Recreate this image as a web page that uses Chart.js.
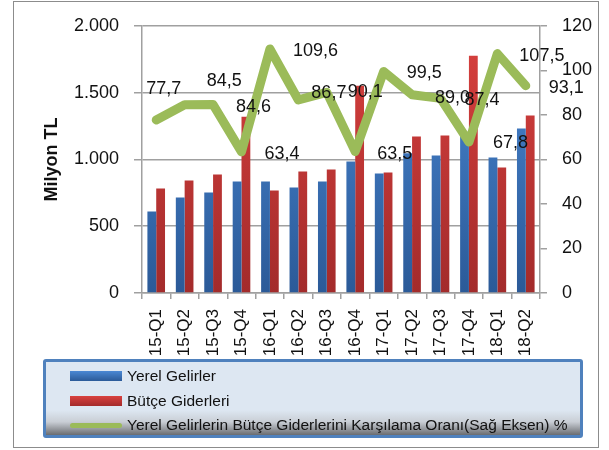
<!DOCTYPE html>
<html>
<head>
<meta charset="utf-8">
<script src="https://cdn.jsdelivr.net/npm/chart.js@4.4.1/dist/chart.umd.min.js"></script>
<style>
    body { margin: 0; background: #fff; font-family: "Liberation Sans", Arial, sans-serif; }
    #wrap { position: relative; width: 609px; height: 450px; }
    #frame { position: absolute; left: 13px; top: 1px; width: 584px; height: 445px; border: 1.5px solid #8c8c8c; pointer-events: none; }
    #legend {
        position: absolute; left: 43px; top: 359px; width: 534px; height: 73px;
        border: 3px solid #4f81bd; border-radius: 3px;
        background: linear-gradient(to bottom, #dde7f2 0%, #dde7f2 66%, #c9ced5 82%, #6a6c70 100%);
    }
    .item { position: absolute; left: 24px; height: 20px; display: flex; align-items: center; font-size: 15.5px; color: #111; white-space: nowrap; }
    .swatch { width: 52px; margin-right: 5px; }
</style>
</head>
<body>
<div id="wrap">
    <canvas id="chart" width="609" height="450"></canvas>
    <div id="frame"></div>
    <div id="legend"></div>
</div>
<script>
// Données
const categories = ['15-Q1', '15-Q2', '15-Q3', '15-Q4', '16-Q1', '16-Q2', '16-Q3', '16-Q4',
                    '17-Q1', '17-Q2', '17-Q3', '17-Q4', '18-Q1', '18-Q2'];
const yerelGelirler = [610, 715, 752, 834, 834, 790, 834, 984, 894, 1046, 1029, 1204, 1014, 1231];
const butceGiderleri = [782, 842, 887, 1320, 767, 909, 924, 1552, 902, 1171, 1178, 1776, 939, 1328];
const karsilamaOrani = [77.7, 84.5, 84.6, 63.4, 109.6, 86.7, 90.1, 63.5, 99.5, 89.0, 87.4, 67.8, 107.5, 93.1];
const leftTicks = [0, 500, 1000, 1500, 2000];
const rightTicks = [0, 20, 40, 60, 80, 100, 120];

// décalages des étiquettes (px), comme dans l'original Excel
const labelDx = [-10, 22, 23, 23, 23, 13, 21, 22, 23, 23, 24, 24, 22, 23];
const labelDy = [-31, -24, 2, 2, 2, -7, 0, 2, 2, 3, 2, 1, 2, 2];

const FONT = '"Liberation Sans", Arial, sans-serif';
const GRID = '#a0a0a0';

function fmtThousands(v) {
    return v.toString().replace(/\B(?=(\d{3})+(?!\d))/g, '.');
}

function barGradient(top, bottom) {
    return function(ctx) {
        const area = ctx.chart.chartArea;
        if (!area) return bottom;
        const g = ctx.chart.ctx.createLinearGradient(0, area.top, 0, area.bottom);
        g.addColorStop(0, top);
        g.addColorStop(1, bottom);
        return g;
    };
}

const lineLabels = {
    id: 'lineLabels',
    afterDatasetsDraw(chart) {
        const meta = chart.getDatasetMeta(0);
        const c = chart.ctx;
        c.save();
        c.font = '18px ' + FONT;
        c.fillStyle = '#111';
        c.textAlign = 'left';
        c.textBaseline = 'middle';
        meta.data.forEach((pt, i) => {
            const txt = karsilamaOrani[i].toFixed(1).replace('.', ',');
            c.fillText(txt, pt.x + labelDx[i], pt.y + labelDy[i]);
        });
        c.restore();
    }
};

const ctx = document.getElementById('chart').getContext('2d');
const chart = new Chart(ctx, {
    data: {
        labels: categories,
        datasets: [{
            type: 'line',
            label: 'Yerel Gelirlerin Bütçe Giderlerini Karşılama Oranı(Sağ Eksen) %',
            data: karsilamaOrani,
            yAxisID: 'yR',
            borderColor: '#9bbb59',
            backgroundColor: '#9bbb59',
            borderWidth: 9,
            borderJoinStyle: 'round',
            borderCapStyle: 'round',
            pointRadius: 0,
            tension: 0,
            order: 0
        }, {
            type: 'bar',
            label: 'Yerel Gelirler',
            data: yerelGelirler,
            yAxisID: 'y',
            backgroundColor: barGradient('#4a88d4', '#2b5a98'),
            categoryPercentage: 0.62,
            barPercentage: 1,
            order: 1
        }, {
            type: 'bar',
            label: 'Bütçe Giderleri',
            data: butceGiderleri,
            yAxisID: 'y',
            backgroundColor: barGradient('#d9413f', '#a32b2b'),
            categoryPercentage: 0.62,
            barPercentage: 1,
            order: 1
        }]
    },
    options: {
        responsive: false,
        animation: false,
        layout: { padding: { top: 25, left: 14, right: 0, bottom: 0 } },
        plugins: { legend: { display: false }, tooltip: { enabled: false } },
        scales: {
            x: {
                grid: { display: true, offset: true, drawOnChartArea: false, color: GRID, lineWidth: 1.5, tickLength: 6 },
                border: { color: GRID, width: 1.5 },
                ticks: { minRotation: 90, maxRotation: 90, padding: 10, color: '#111', font: { family: FONT, size: 17 } },
                afterFit(scale) { scale.height = 157; }
            },
            y: {
                position: 'left',
                min: 0, max: 2000,
                afterBuildTicks(scale) { scale.ticks = leftTicks.map(v => ({ value: v })); },
                grid: { color: GRID, lineWidth: 1.5, tickLength: 8 },
                border: { color: GRID, width: 1.5 },
                ticks: { padding: 15, color: '#111', font: { family: FONT, size: 18 }, callback: v => fmtThousands(v) },
                title: { display: true, text: 'Milyon TL', color: '#111', font: { family: FONT, size: 18, weight: 'bold' }, padding: { top: 27, bottom: 0 } },
                afterFit(scale) { scale.width = 128; }
            },
            yR: {
                position: 'right',
                min: 0, max: 120,
                afterBuildTicks(scale) { scale.ticks = rightTicks.map(v => ({ value: v })); },
                grid: { drawOnChartArea: false, color: GRID, lineWidth: 1.5, tickLength: 7 },
                border: { color: GRID, width: 1.5 },
                ticks: { padding: 15, color: '#111', font: { family: FONT, size: 18 } },
                afterFit(scale) { scale.width = 69; }
            }
        }
    },
    plugins: [lineLabels]
});

// Légende HTML (ordre: barres puis ligne)
const legend = document.getElementById('legend');
const legendOrder = [1, 2, 0];
const legendColors = ['#9bbb59', 'linear-gradient(#4a88d4, #2b5a98)', 'linear-gradient(#d9413f, #a32b2b)'];
legendOrder.forEach((di, row) => {
    const ds = chart.data.datasets[di];
    const item = document.createElement('div');
    item.className = 'item';
    item.style.top = (4 + row * 24.5) + 'px';
    const sw = document.createElement('span');
    sw.className = 'swatch';
    sw.style.background = legendColors[di];
    sw.style.height = ds.type === 'line' ? '5px' : '10px';
    if (ds.type === 'line') sw.style.borderRadius = '3px';
    item.appendChild(sw);
    item.appendChild(document.createTextNode(ds.label));
    legend.appendChild(item);
});
</script>
</body>
</html>
